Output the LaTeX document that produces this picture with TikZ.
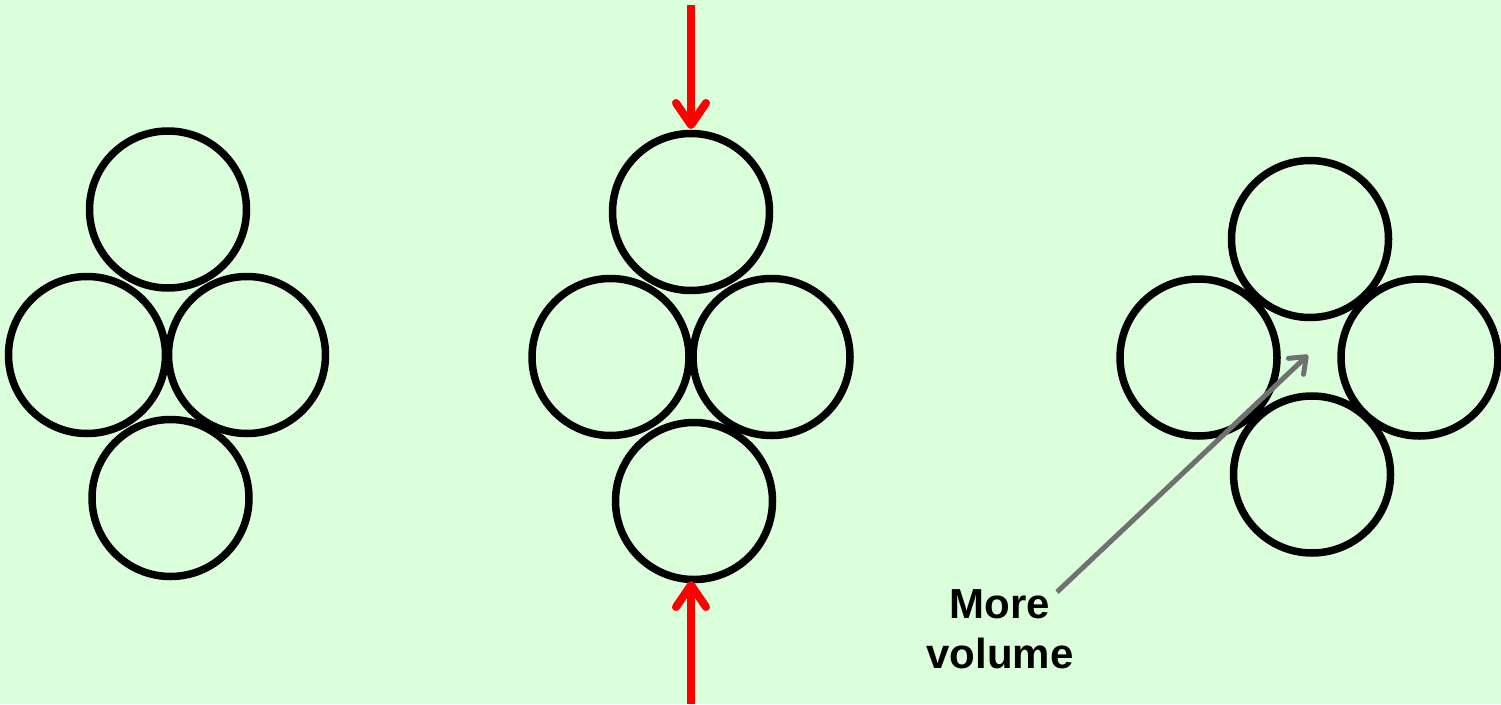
\documentclass[tikz,border=0pt]{standalone}
\usepackage{fontspec}
\setmainfont{Liberation Sans}
\usetikzlibrary{arrows.meta}
\definecolor{bg}{RGB}{218,255,218}
\definecolor{pushred}{RGB}{255,0,0}
\definecolor{pointgrey}{RGB}{112,112,112}
\begin{document}
\begin{tikzpicture}[x=1pt,y=-1pt,
  ball/.style={circle,draw=black,line width=7.5pt,minimum size=157pt,inner sep=0pt},
  pusharrow/.style={draw=pushred,line width=8pt,-{Straight Barb[length=22pt,width=30pt,round]}},
  pointarrow/.style={draw=pointgrey,line width=5pt,-{Straight Barb[length=14pt,width=22pt,round]}},
  label/.style={font=\bfseries\fontsize{42}{50}\selectfont,align=center,text=black}]
\fill[bg] (0,0) rectangle (1501,704);
\useasboundingbox (0,0) rectangle (1501,704);
% left group
\node[ball] (a1) at (168,209.5) {};
\node[ball] (a2) at (87,355) {};
\node[ball] (a3) at (247,355) {};
\node[ball] (a4) at (170.5,498) {};
% middle group
\node[ball] (b1) at (691,212) {};
\node[ball] (b2) at (610.5,357) {};
\node[ball] (b3) at (771.5,357) {};
\node[ball] (b4) at (694,501) {};
% right group
\node[ball] (c1) at (1310,239) {};
\node[ball] (c2) at (1198.5,357.5) {};
\node[ball] (c3) at (1419.5,357.5) {};
\node[ball] (c4) at (1312,474.5) {};
% red push arrows
\coordinate (ptop) at (691,5);
\coordinate (pbot) at (691,704);
\coordinate (ttop) at (691,129);
\coordinate (tbot) at (691,581);
\draw[pusharrow] (ptop) -- (ttop);
\draw[pusharrow] (pbot) -- (tbot);
% label
\node[label] (lbl) at (1000,629) {More\\volume};
\coordinate (lstart) at (1057,592);
\coordinate (gap) at (1308,355);
\draw[pointarrow] (lstart) -- (gap);
\end{tikzpicture}
\end{document}
